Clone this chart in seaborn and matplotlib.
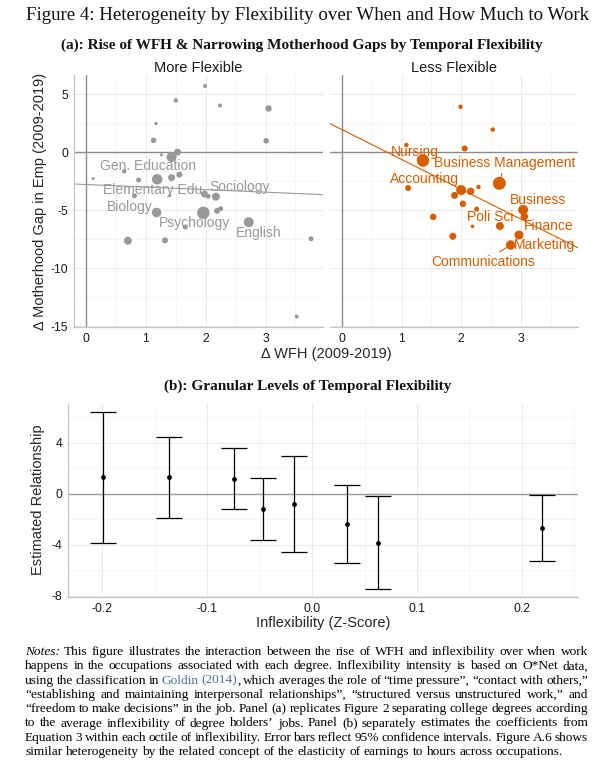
import matplotlib
matplotlib.use("Agg")
import matplotlib.pyplot as plt
import numpy as np
import pandas as pd
import seaborn as sns

# ---- panel (a): degrees, rise of WFH vs change in motherhood gap ----
more_x = [1.99, 1.50, 2.24, 3.05, 1.17, 1.13, 3.01, 1.26, 1.53, 1.43, 0.64, 0.12, 0.88, 1.19, 1.43, 1.56,
          0.81, 1.40, 1.98, 2.04, 2.17, 1.18, 1.96, 2.19, 2.25, 2.72, 1.66, 0.70, 1.32, 3.76, 3.52]
more_y = [5.69, 4.45, 4.02, 3.76, 2.46, 1.01, 0.98, -0.23, 0.00, -0.43, -1.65, -2.28, -2.40, -2.34, -2.20, -1.94,
          -3.76, -3.73, -3.61, -3.79, -3.84, -5.20, -5.23, -5.06, -4.88, -6.04, -6.45, -7.63, -7.60, -7.46, -14.16]
more_w = [16, 20, 16, 42, 12, 30, 30, 9, 49, 100, 20, 9, 25, 110, 49, 36,
          25, 9, 49, 25, 64, 90, 156, 36, 25, 100, 25, 64, 36, 25, 16]

less_x = [1.99, 2.53, 1.08, 2.06, 1.36, 1.11, 2.64, 2.00, 2.16, 2.29, 1.89, 2.03, 2.26, 3.04, 3.06, 1.53,
          2.19, 2.65, 2.97, 1.86, 2.83]
less_y = [3.90, 1.94, 0.61, 0.32, -0.72, -3.09, -2.69, -3.27, -3.38, -3.00, -3.73, -4.45, -4.91, -4.97, -5.55, -5.58,
          -6.39, -6.36, -7.14, -7.25, -8.00]
less_w = [20, 20, 20, 36, 156, 36, 169, 100, 56, 20, 49, 42, 25, 100, 56, 42,
          12, 64, 81, 49, 90]

more_labels = ["Gen. Education", "Elementary Edu.", "Sociology", "Biology", "Psychology", "English"]
more_lab_x = [1.03, 1.14, 2.57, 0.73, 1.82, 2.89]
more_lab_y = [-1.16, -3.24, -3.03, -4.71, -6.07, -6.94]

less_labels = ["Nursing", "Business Management", "Accounting", "Business", "Poli Sci", "Finance",
               "Marketing", "Communications"]
less_lab_x = [1.22, 2.73, 1.38, 3.29, 2.48, 3.46, 3.40, 2.37]
less_lab_y = [0.00, -0.95, -2.31, -4.10, -5.55, -6.39, -8.00, -9.48]
less_lab_point = [None, 6, 7, None, None, None, None, 20]   # repel segments to these points

# fitted lines (intercept at 0, slope)
more_fit = (-2.79, -0.22)
less_fit = (1.94, -2.57)

# ---- panel (b): octiles of inflexibility ----
infl_x = [-0.199, -0.136, -0.074, -0.047, -0.017, 0.0335, 0.063, 0.219]
est = [1.27, 1.27, 1.18, -1.21, -0.79, -2.39, -3.86, -2.68]
ci_lo = [-3.89, -1.92, -1.21, -3.62, -4.57, -5.43, -7.51, -5.26]
ci_hi = [6.43, 4.45, 3.57, 1.21, 2.99, 0.66, -0.21, -0.11]

GREY = "#999999"
ORANGE = "#D55E00"
LINK = "#4A6FA5"

sns.set_theme(style="whitegrid")
plt.rcParams['font.family'] = ['Liberation Sans', 'DejaVu Sans']
plt.rcParams['axes.unicode_minus'] = False

W, H = 611, 775
fig = plt.figure(figsize=(W / 100, H / 100), dpi=100)


def box(x0, y0, x1, y1):
    return [x0 / W, 1 - y1 / H, (x1 - x0) / W, (y1 - y0) / H]


ax_l = fig.add_axes(box(74, 75, 323, 327))
ax_r = fig.add_axes(box(330, 75, 578, 327))
ax_b = fig.add_axes(box(67.7, 404, 578, 597.3))


def style_axis(ax, xmaj, xmin, ymaj, ymin, left=True):
    ax.set_facecolor("white")
    ax.set_xticks(xmaj)
    ax.set_xticks(xmin, minor=True)
    ax.set_yticks(ymaj)
    ax.set_yticks(ymin, minor=True)
    ax.grid(True, which="major", color="#EBEBEB", lw=0.7)
    ax.grid(True, which="minor", color="#F3F3F3", lw=0.5)
    ax.set_axisbelow(True)
    for s in ["top", "right"]:
        ax.spines[s].set_visible(False)
    ax.spines["bottom"].set_color("#C4C4C4")
    ax.spines["bottom"].set_linewidth(0.9)
    ax.spines["left"].set_visible(left)
    ax.spines["left"].set_color("#C4C4C4")
    ax.spines["left"].set_linewidth(0.9)
    ax.tick_params(which="major", length=2.5, width=0.6, color="#333333",
                   labelsize=8.8, labelcolor="#1A1A1A", pad=1.5)
    ax.tick_params(which="minor", length=0)
    if not left:
        ax.tick_params(axis="y", which="both", left=False, labelleft=False)
    ax.set_xlabel("")
    ax.set_ylabel("")


panels = [
    (ax_l, more_x, more_y, more_w, GREY, more_fit, more_labels, more_lab_x, more_lab_y, None, "More Flexible"),
    (ax_r, less_x, less_y, less_w, ORANGE, less_fit, less_labels, less_lab_x, less_lab_y, less_lab_point, "Less Flexible"),
]
for ax, xs, ys, ws, col, fit, labs, lx, ly, lpt, strip in panels:
    df = pd.DataFrame({"wfh": xs, "gap": ys, "w": ws})
    ax.axhline(0, color="#8A8A8A", lw=1.0, zorder=1)
    ax.axvline(0, color="#8A8A8A", lw=1.0, zorder=1)
    sns.scatterplot(data=df, x="wfh", y="gap", size="w", sizes=(4.7, 87.6), size_norm=(9, 169),
                    color=col, linewidth=0, legend=False, ax=ax, zorder=3)
    ax.axline((0, fit[0]), slope=fit[1], color=col, lw=0.8, zorder=2)
    for i, lab in enumerate(labs):
        if lpt is not None and lpt[i] is not None:
            j = lpt[i]
            ax.annotate(lab, xy=(xs[j], ys[j]), xytext=(lx[i], ly[i]), ha="center", va="center",
                        color=col, fontsize=10, zorder=4,
                        arrowprops=dict(arrowstyle="-", color=col, lw=0.8, shrinkA=0, shrinkB=1.5))
        else:
            ax.text(lx[i], ly[i], lab, ha="center", va="center", color=col, fontsize=10, zorder=4)
    ax.set_xlim(-0.2, 3.96)
    ax.set_ylim(-15.06, 6.64)
    style_axis(ax, [0, 1, 2, 3], [0.5, 1.5, 2.5, 3.5], [-15, -10, -5, 0, 5], [-12.5, -7.5, -2.5, 2.5],
               left=(ax is ax_l))
    cx = (ax.get_position().x0 + ax.get_position().x1) / 2
    fig.text(cx, 1 - 68 / H, strip, ha="center", va="center", fontsize=10.5, color="#1A1A1A")

# panel (b)
dfb = pd.DataFrame({"z": infl_x, "b": est, "lo": ci_lo, "hi": ci_hi})
ax_b.axhline(0, color="#9A9A9A", lw=1.0, zorder=1)
ax_b.errorbar(dfb["z"], dfb["b"], yerr=[dfb["b"] - dfb["lo"], dfb["hi"] - dfb["b"]], fmt="none",
              ecolor="black", elinewidth=0.9, capsize=9.4, capthick=0.9, zorder=2)
sns.scatterplot(data=dfb, x="z", y="b", color="black", s=12, linewidth=0, legend=False, ax=ax_b, zorder=3)
ax_b.set_xlim(-0.233, 0.2535)
ax_b.set_ylim(-8.13, 7.03)
style_axis(ax_b, [-0.2, -0.1, 0.0, 0.1, 0.2], [-0.15, -0.05, 0.05, 0.15, 0.25], [-8, -4, 0, 4], [-6, -2, 2, 6])
ax_b.set_xticklabels(["-0.2", "-0.1", "0.0", "0.1", "0.2"])
ax_b.set_yticklabels(["-8", "-4", "0", "4"])

# axis titles
fig.text(326 / W, 1 - 354 / H, "Δ WFH (2009-2019)", ha="center", va="center", fontsize=10.5)
fig.text(40 / W, 1 - 201 / H, "Δ Motherhood Gap in Emp (2009-2019)", ha="center", va="center",
         rotation=90, fontsize=10.5)
fig.text(323 / W, 1 - 623 / H, "Inflexibility (Z-Score)", ha="center", va="center", fontsize=10.5)
fig.text(38 / W, 1 - 500 / H, "Estimated Relationship", ha="center", va="center", rotation=90, fontsize=10.5)

# serif headings, scaled to the widths they take in the original
serif = ['Liberation Serif', 'DejaVu Serif']
rend = fig.canvas.get_renderer()


def heading(xc, yc, text, width_px, weight):
    t = fig.text(xc / W, 1 - yc / H, text, ha="center", va="center", family=serif,
                 fontweight=weight, fontsize=12, color="#111111")
    w = t.get_window_extent(renderer=rend).width
    t.set_fontsize(12 * width_px / w)
    return t


heading(307, 15, "Figure 4: Heterogeneity by Flexibility over When and How Much to Work", 563, "normal")
heading(302, 45, "(a): Rise of WFH & Narrowing Motherhood Gaps by Temporal Flexibility", 480, "bold")
heading(308, 386, "(b): Granular Levels of Temporal Flexibility", 286, "bold")

# notes, justified like the original
notes_lines = [
    "Notes: This figure illustrates the interaction between the rise of WFH and inflexibility over when work",
    "happens in the occupations associated with each degree. Inflexibility intensity is based on O*Net data,",
    "using the classification in Goldin (2014), which averages the role of “time pressure”, “contact with others,”",
    "“establishing and maintaining interpersonal relationships”, “structured versus unstructured work,” and",
    "“freedom to make decisions” in the job. Panel (a) replicates Figure 2 separating college degrees according",
    "to the average inflexibility of degree holders’ jobs. Panel (b) separately estimates the coefficients from",
    "Equation 3 within each octile of inflexibility. Error bars reflect 95% confidence intervals. Figure A.6 shows",
    "similar heterogeneity by the related concept of the elasticity of earnings to hours across occupations.",
]
special = {"Notes:": [("Notes:", "black", "italic")],
           "Goldin": [("Goldin", LINK, "normal")],
           "(2014),": [("(2014)", LINK, "normal"), (",", "black", "normal")]}

x_left, x_right = 25, 588
base_y, step = 655, 14.3


def make_word(word, fs):
    pieces = special.get(word, [(word, "black", "normal")])
    arts = []
    for txt, col, sty in pieces:
        a = fig.text(0, 0, txt, family=serif, fontsize=fs, color=col, style=sty, va="baseline", ha="left")
        arts.append((a, a.get_window_extent(renderer=rend).width))
    return arts


# font size chosen so the last (unjustified) line spans about as in the original
probe = fig.text(0, 0, notes_lines[-1], family=serif, fontsize=9)
fs_notes = 9 * 540 / probe.get_window_extent(renderer=rend).width
probe.remove()
pa = fig.text(0, 0, "a b", family=serif, fontsize=fs_notes)
pb = fig.text(0, 0, "ab", family=serif, fontsize=fs_notes)
space = pa.get_window_extent(renderer=rend).width - pb.get_window_extent(renderer=rend).width
pa.remove()
pb.remove()

for i, line in enumerate(notes_lines):
    y = 1 - (base_y + i * step) / H
    words = [make_word(wd, fs_notes) for wd in line.split(" ")]
    widths = [sum(w for _, w in wd) for wd in words]
    last = i == len(notes_lines) - 1
    gap = space if last else (x_right - x_left - sum(widths)) / (len(words) - 1)
    x = x_left
    for wd, wtot in zip(words, widths):
        xx = x
        for a, w in wd:
            a.set_position((xx / W, y))
            xx += w
        x += wtot + gap

fig.savefig("out.png", dpi=100, facecolor="white")
